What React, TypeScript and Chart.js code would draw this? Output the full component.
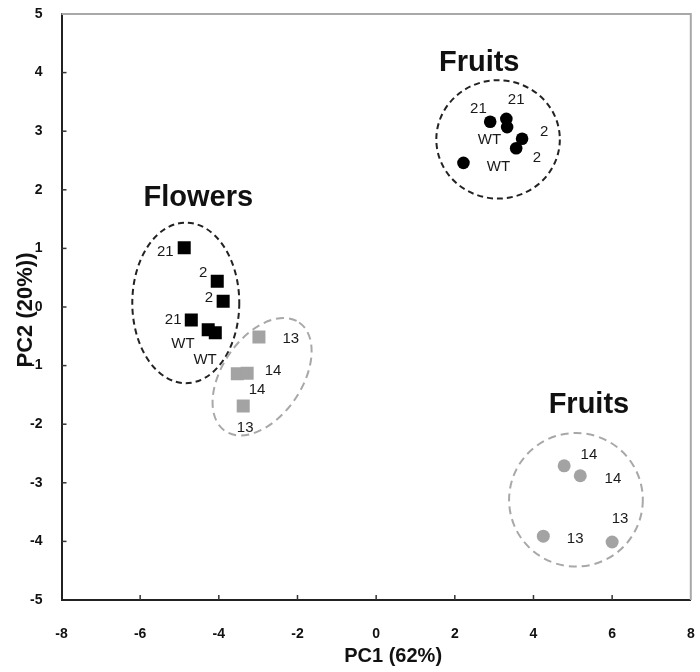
import React, { useEffect, useRef } from "react";
import { Chart, registerables } from "chart.js";

Chart.register(...registerables);

// ---- axis ticks ----
const X_MIN = -8;
const X_MAX = 8;
const X_STEP = 2;
const Y_MIN = -5;
const Y_MAX = 5;
const Y_STEP = 1;

// ---- series values (PC1, PC2) ----
const FLOWER_BLACK_X = [-4.88, -4.04, -3.89, -4.7, -4.27, -4.09];
const FLOWER_BLACK_Y = [1.01, 0.44, 0.1, -0.22, -0.39, -0.44];
const FLOWER_GRAY_X = [-2.98, -3.53, -3.28, -3.38];
const FLOWER_GRAY_Y = [-0.51, -1.14, -1.13, -1.69];
const FRUIT_BLACK_X = [2.9, 3.31, 3.33, 3.71, 3.56, 2.22];
const FRUIT_BLACK_Y = [3.16, 3.21, 3.07, 2.87, 2.71, 2.46];
const FRUIT_GRAY_X = [4.78, 5.19, 4.25, 6.0];
const FRUIT_GRAY_Y = [-2.71, -2.88, -3.91, -4.01];

// ---- point annotations ----
const POINT_LABEL_TEXT = [
  "21", "2", "2", "21", "WT", "WT",
  "13", "14", "14", "13",
  "21", "21", "WT", "2", "2", "WT",
  "14", "14", "13", "13",
];
const POINT_LABEL_X = [
  -5.36, -4.4, -4.25, -5.16, -4.91, -4.35,
  -2.17, -2.62, -3.03, -3.33,
  2.6, 3.56, 2.88, 4.27, 4.09, 3.11,
  5.41, 6.02, 6.2, 5.06,
];
const POINT_LABEL_Y = [
  0.94, 0.58, 0.15, -0.22, -0.63, -0.9,
  -0.55, -1.09, -1.42, -2.06,
  3.38, 3.53, 2.85, 2.99, 2.54, 2.39,
  -2.53, -2.94, -3.62, -3.96,
];

// ---- group titles ----
const GROUP_TITLES = ["Flowers", "Fruits", "Fruits"];
const GROUP_TITLE_X = [-4.52, 2.62, 5.41];
const GROUP_TITLE_Y = [1.86, 4.16, -1.67];

// ---- group ellipses (data units) ----
const ELLIPSE_CX = [-4.84, -2.9, 3.1, 5.08];
const ELLIPSE_CY = [0.07, -1.19, 2.86, -3.29];
const ELLIPSE_RX = [1.36, 1.67, 1.57, 1.7];
const ELLIPSE_RY = [1.37, 0.68, 1.01, 1.14];
const ELLIPSE_ANGLE = [0, -55.7, 0, 0];
const ELLIPSE_GRAY = [false, true, false, true];

const X_TITLE = "PC1 (62%)";
const Y_TITLE = "PC2 (20%))";

const FONT = "'Liberation Sans', Arial, Helvetica, sans-serif";
const BLACK = "#000000";
const GRAY = "#a3a3a3";

const zip = (xs: number[], ys: number[]) => xs.map((x, i) => ({ x, y: ys[i] }));

const decorPlugin = {
  id: "decor",
  beforeDatasetsDraw(chart: any) {
    const { ctx, chartArea, scales } = chart;
    const xs = scales.x;
    const ys = scales.y;
    ctx.save();
    // top and right frame lines
    ctx.strokeStyle = "#a8a8a8";
    ctx.lineWidth = 2;
    ctx.beginPath();
    ctx.moveTo(chartArea.left, chartArea.top);
    ctx.lineTo(chartArea.right, chartArea.top);
    ctx.lineTo(chartArea.right, chartArea.bottom);
    ctx.stroke();
    // inward tick marks
    ctx.strokeStyle = "#333";
    ctx.lineWidth = 1.5;
    for (let v = X_MIN + X_STEP; v < X_MAX; v += X_STEP) {
      const px = xs.getPixelForValue(v);
      ctx.beginPath();
      ctx.moveTo(px, chartArea.bottom);
      ctx.lineTo(px, chartArea.bottom - 5);
      ctx.stroke();
    }
    for (let v = Y_MIN + Y_STEP; v < Y_MAX; v += Y_STEP) {
      const py = ys.getPixelForValue(v);
      ctx.beginPath();
      ctx.moveTo(chartArea.left, py);
      ctx.lineTo(chartArea.left + 5, py);
      ctx.stroke();
    }
    // ellipses
    ELLIPSE_CX.forEach((cx, i) => {
      const px = xs.getPixelForValue(cx);
      const py = ys.getPixelForValue(ELLIPSE_CY[i]);
      const rx = Math.abs(xs.getPixelForValue(cx + ELLIPSE_RX[i]) - px);
      const ry = Math.abs(ys.getPixelForValue(ELLIPSE_CY[i] + ELLIPSE_RY[i]) - py);
      ctx.beginPath();
      ctx.ellipse(px, py, rx, ry, (ELLIPSE_ANGLE[i] * Math.PI) / 180, 0, Math.PI * 2);
      if (ELLIPSE_GRAY[i]) {
        ctx.strokeStyle = "#a8a8a8";
        ctx.setLineDash([8, 5]);
      } else {
        ctx.strokeStyle = "#222";
        ctx.setLineDash([6, 4]);
      }
      ctx.lineWidth = 2;
      ctx.stroke();
    });
    ctx.restore();
  },
  afterDatasetsDraw(chart: any) {
    const { ctx, scales } = chart;
    const xs = scales.x;
    const ys = scales.y;
    ctx.save();
    ctx.textAlign = "center";
    ctx.textBaseline = "middle";
    ctx.fillStyle = "#1a1a1a";
    ctx.font = `15px ${FONT}`;
    POINT_LABEL_TEXT.forEach((t, i) => {
      ctx.fillText(t, xs.getPixelForValue(POINT_LABEL_X[i]), ys.getPixelForValue(POINT_LABEL_Y[i]));
    });
    ctx.fillStyle = "#111";
    ctx.font = `bold 29px ${FONT}`;
    GROUP_TITLES.forEach((t, i) => {
      ctx.fillText(t, xs.getPixelForValue(GROUP_TITLE_X[i]), ys.getPixelForValue(GROUP_TITLE_Y[i]));
    });
    ctx.restore();
  },
  afterDraw(chart: any) {
    const { ctx, chartArea } = chart;
    ctx.save();
    ctx.fillStyle = "#111";
    ctx.textAlign = "center";
    ctx.textBaseline = "middle";
    ctx.font = `bold 20px ${FONT}`;
    ctx.fillText(X_TITLE, (chartArea.left + chartArea.right) / 2 + 17, chartArea.bottom + 56);
    ctx.translate(26, (chartArea.top + chartArea.bottom) / 2 + 3);
    ctx.rotate(-Math.PI / 2);
    ctx.font = `bold 22px ${FONT}`;
    ctx.fillText(Y_TITLE, 0, 0);
    ctx.restore();
  },
};

export default function App() {
  const ref = useRef<HTMLCanvasElement | null>(null);
  useEffect(() => {
    if (!ref.current) return;
    const chart = new Chart(ref.current, {
      type: "scatter",
      data: {
        datasets: [
          {
            label: "Flowers (WT/lines)",
            data: zip(FLOWER_BLACK_X, FLOWER_BLACK_Y),
            pointStyle: "rect",
            pointRadius: 9.2,
            backgroundColor: BLACK,
            borderColor: BLACK,
            borderWidth: 0,
          },
          {
            label: "Flowers (13/14)",
            data: zip(FLOWER_GRAY_X, FLOWER_GRAY_Y),
            pointStyle: "rect",
            pointRadius: 9.2,
            backgroundColor: GRAY,
            borderColor: GRAY,
            borderWidth: 0,
          },
          {
            label: "Fruits (WT/lines)",
            data: zip(FRUIT_BLACK_X, FRUIT_BLACK_Y),
            pointStyle: "circle",
            pointRadius: 6.3,
            backgroundColor: BLACK,
            borderColor: BLACK,
            borderWidth: 0,
          },
          {
            label: "Fruits (13/14)",
            data: zip(FRUIT_GRAY_X, FRUIT_GRAY_Y),
            pointStyle: "circle",
            pointRadius: 6.5,
            backgroundColor: GRAY,
            borderColor: GRAY,
            borderWidth: 0,
          },
        ],
      },
      options: {
        animation: false,
        responsive: false,
        devicePixelRatio: 1,
        layout: { padding: { top: 14, right: 8, bottom: 0, left: 0 } },
        plugins: {
          legend: { display: false },
          tooltip: { enabled: false },
        },
        scales: {
          x: {
            type: "linear",
            min: X_MIN,
            max: X_MAX,
            afterFit: (s: any) => {
              s.height = 72;
              s.paddingLeft = 0;
              s.paddingRight = 0;
            },
            ticks: {
              stepSize: X_STEP,
              padding: 26,
              color: "#111",
              font: { family: FONT, size: 14, weight: "bold" },
            },
            grid: { display: true, drawOnChartArea: false, drawTicks: false },
            border: { display: true, color: "#222", width: 2 },
          },
          y: {
            type: "linear",
            min: Y_MIN,
            max: Y_MAX,
            afterFit: (s: any) => {
              s.width = 61.5;
              s.paddingTop = 0;
              s.paddingBottom = 0;
            },
            ticks: {
              stepSize: Y_STEP,
              padding: 19,
              color: "#111",
              font: { family: FONT, size: 14, weight: "bold" },
            },
            grid: { display: true, drawOnChartArea: false, drawTicks: false },
            border: { display: true, color: "#222", width: 2 },
          },
        },
      },
      plugins: [decorPlugin],
    });
    return () => chart.destroy();
  }, []);
  return (
    <div style={{ position: "absolute", left: 0, top: 0, width: 700, height: 672, background: "#fff" }}>
      <canvas ref={ref} width={700} height={672} style={{ display: "block" }} />
    </div>
  );
}
